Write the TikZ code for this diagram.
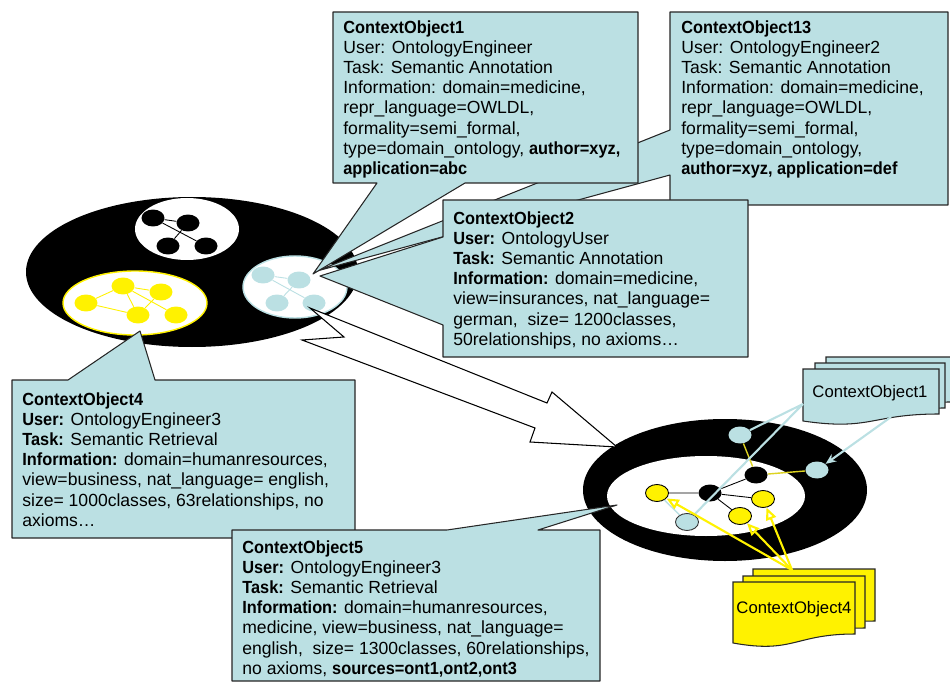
\documentclass[tikz,border=0pt]{standalone}
\usepackage{fontspec}
\setmainfont{Liberation Sans}[BoldFeatures={FakeStretch=0.93}]
\usetikzlibrary{shapes.geometric, arrows.meta}
\definecolor{cobg}{RGB}{187,224,227}

\begin{document}
\begin{tikzpicture}[x=0.02cm, y=-0.02cm,
    gnode/.style={ellipse, minimum width=0.46cm, minimum height=0.34cm, inner sep=0pt},
    knode/.style={gnode, fill=black},
    ynode/.style={gnode, fill=yellow},
    lnode/.style={gnode, fill=cobg},
    callout/.style={draw=black!85, fill=cobg, line width=0.6pt, line join=round},
    info/.style={anchor=north west, inner sep=0pt, align=left, font=\fontsize{10}{11.5}\selectfont},
    doc/.style={draw=black!85, line width=0.6pt},
    doclabel/.style={inner sep=0pt, font=\fontsize{9.5}{11}\selectfont}]

\useasboundingbox (0,0) rectangle (950,682);

% left ontology
\fill (192,272) ellipse [x radius=166, y radius=75];
\fill[white] (187,229) ellipse [x radius=52, y radius=31];
\draw[yellow, fill=white, line width=0.8pt] (135,303) ellipse [x radius=72, y radius=32];
\draw[cobg, fill=white, line width=0.8pt] (295,287) ellipse [x radius=52, y radius=31];

\node[knode] (k1) at (153,218) {};
\node[knode] (k2) at (188,223) {};
\node[knode] (k3) at (168,246) {};
\node[knode] (k4) at (206,246) {};
\draw[line width=0.5pt] (k1) -- (k2) (k1) -- (k4) (k2) -- (k3);

\node[ynode] (y1) at (86,303) {};
\node[ynode] (y2) at (123,286) {};
\node[ynode] (y3) at (161,292) {};
\node[ynode] (y4) at (138,315) {};
\node[ynode] (y5) at (176,315) {};
\draw[yellow, line width=0.5pt] (y1) -- (y2) (y1) -- (y4) (y2) -- (y3) (y2) -- (y4)
    (y2) -- (y5) (y3) -- (y4);

\node[lnode] (l1) at (263,275) {};
\node[lnode] (l2) at (299,280) {};
\node[lnode] (l3) at (277,303) {};
\node[lnode] (l4) at (314,303) {};
\draw[cobg, line width=0.5pt] (l1) -- (l2) (l1) -- (l4) (l2) -- (l3);

% right ontology
\fill (725,490) ellipse [x radius=142, y radius=71];
\fill[white] (706,496) ellipse [x radius=99, y radius=40];

\node[lnode] (ra) at (740,435) {};
\node[lnode] (rb) at (817,470) {};
\node[lnode, draw=black!80, line width=0.5pt] (rc) at (687,522) {};
\node[knode] (rk1) at (710,493) {};
\node[knode] (rk2) at (756,475) {};
\node[ynode, draw, line width=0.5pt] (ry1) at (657,493) {};
\node[ynode, draw, line width=0.5pt] (ry2) at (763,499) {};
\node[ynode, draw, line width=0.5pt] (ry3) at (740,516) {};
\draw[line width=0.5pt] (ry1) -- (rk1) -- (rk2) (rk1) -- (ry2) (rk1) -- (ry3);
\draw[yellow!85!black, line width=0.8pt] (ra) -- (rk2) -- (rb);
\draw[cobg, line width=0.8pt] (ry1) -- (rc);

% merge arrow
\draw[fill=white, line width=0.6pt] (310,308) -- (547,403) -- (552,392) -- (617,447)
    -- (530,442) -- (535,428) -- (302,340) -- (344,337) -- cycle;

% callouts
\draw[callout] (670,12) -- (948,12) -- (948,205) -- (670,205) -- (670,175) -- (317,271)
    -- (670,130) -- cycle;
\draw[callout] (333,12) -- (638,12) -- (638,183) -- (465,183) -- (313,274) -- (377,183)
    -- (333,183) -- cycle;
\draw[callout] (443,200) -- (748,200) -- (748,357) -- (443,357) -- (443,325) -- (320,276)
    -- (443,237) -- cycle;
\draw[callout] (12,380) -- (68,380) -- (140,331) -- (155,380) -- (355,380) -- (355,538)
    -- (12,538) -- cycle;
\draw[callout] (232,530) -- (447,530) -- (617,505) -- (538,530) -- (600,530) -- (600,681)
    -- (232,681) -- cycle;

\node[info] (co13) at (681,20) {\textbf{ContextObject13}\\
    User: OntologyEngineer2\\
    Task: Semantic Annotation\\
    Information: domain=medicine,\\
    repr\_language=OWLDL,\\
    formality=semi\_formal,\\
    type=domain\_ontology,\\
    \textbf{author=xyz, application=def}};
\node[info] (co1) at (343,20) {\textbf{ContextObject1}\\
    User: OntologyEngineer\\
    Task: Semantic Annotation\\
    Information: domain=medicine,\\
    repr\_language=OWLDL,\\
    formality=semi\_formal,\\
    type=domain\_ontology, \textbf{author=xyz,}\\
    \textbf{application=abc}};
\node[info] (co2) at (453,211) {\textbf{ContextObject2}\\
    \textbf{User:} OntologyUser\\
    \textbf{Task:} Semantic Annotation\\
    \textbf{Information:} domain=medicine,\\
    view=insurances, nat\_language=\\
    german,\ \ size= 1200classes,\\
    50relationships, no axioms…};
\node[info] (co4) at (22,392) {\textbf{ContextObject4}\\
    \textbf{User:} OntologyEngineer3\\
    \textbf{Task:} Semantic Retrieval\\
    \textbf{Information:} domain=humanresources,\\
    view=business, nat\_language= english,\\
    size= 1000classes, 63relationships, no\\
    axioms…};
\node[info] (co5) at (242,540) {\textbf{ContextObject5}\\
    \textbf{User:} OntologyEngineer3\\
    \textbf{Task:} Semantic Retrieval\\
    \textbf{Information:} domain=humanresources,\\
    medicine, view=business, nat\_language=\\
    english,\ \ size= 1300classes, 60relationships,\\
    no axioms, \textbf{sources=ont1,ont2,ont3}};

% stacked documents
\foreach \dx/\dy/\w in {23/-12/125, 12/-6/130, 0/0/136}
  \draw[doc, fill=cobg] (803+\dx,369+\dy) -- ++(\w,0) -- ++(0,45)
    .. controls (803+\dx+\w/2,414+\dy) and (803+\dx+\w/2,431+\dy) .. (803+\dx,421+\dy) -- cycle;
\foreach \dx/\dy in {20/-13, 10/-6, 0/0}
  \draw[doc, fill=yellow] (733+\dx,582+\dy) -- ++(122,0) -- ++(0,52)
    .. controls (733+\dx+61,634+\dy) and (733+\dx+61,654+\dy) .. (733+\dx,643+\dy) -- cycle;
\node[doclabel] (doc1) at (870,393) {ContextObject1};
\node[doclabel] (doc4) at (794,609) {ContextObject4};

\coordinate (d1a) at (803,404);
\coordinate (d1b) at (891,417);
\coordinate (d4) at (792,570);
\draw[cobg, line width=1.2pt] (d1a) -- (ra) (d1a) -- (rc);
\draw[cobg, line width=1.2pt, -{Stealth[length=6pt, width=5pt]}] (d1b) -- (rb);
\draw[yellow, line width=1.2pt, -{Triangle[open, length=7pt, width=6pt]}] (d4) -- (ry1);
\draw[yellow, line width=1.2pt, -{Triangle[open, length=7pt, width=6pt]}] (d4) -- (ry3);
\draw[yellow, line width=1.2pt, -{Triangle[open, length=7pt, width=6pt]}] (d4) -- (ry2);

\end{tikzpicture}
\end{document}
